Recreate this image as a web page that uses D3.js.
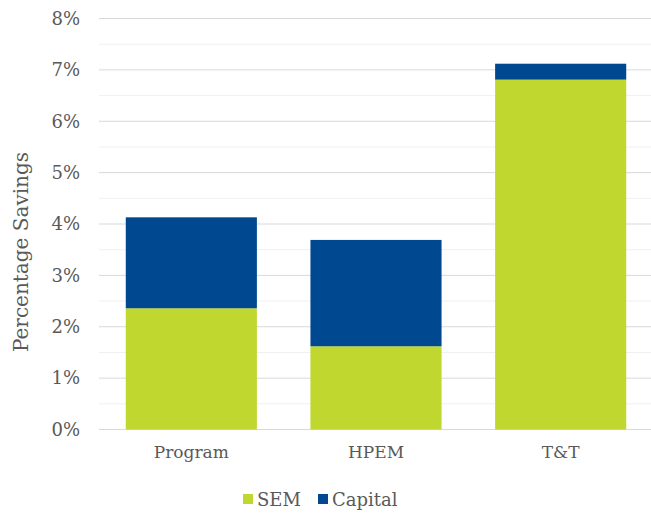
<!DOCTYPE html>
<html><head><meta charset="utf-8">
<script src="https://cdn.jsdelivr.net/npm/d3@7"></script>
<style>body{margin:0;background:#fff}svg{display:block}</style>
</head><body>
<svg id="c" width="651" height="514"></svg>
<script>
const categories = ["Program", "HPEM", "T&T"];
const seriesNames = ["SEM", "Capital"];
const semValues = [2.36, 1.62, 6.81];
const capitalValues = [1.77, 2.07, 0.31];
const yTicks = [0,1,2,3,4,5,6,7,8];
const colors = ["#C0D72F", "#004990"];
const FONT = "'DejaVu Serif', 'Liberation Serif', serif";
const TXT = "#595959";

const svg = d3.select("#c");
const x = d3.scaleBand().domain(categories).range([99, 653]).paddingInner(0.29).paddingOuter(0.145);
const y = d3.scaleLinear().domain([0, 8]).range([429.5, 18.5]);

svg.append("g").selectAll("line").data(d3.range(0.5, 8, 1)).join("line")
  .attr("x1", 99).attr("x2", 651).attr("y1", d => y(d)).attr("y2", d => y(d))
  .attr("stroke", "#f0f0f0").attr("stroke-width", 1);
svg.append("g").selectAll("line").data(yTicks).join("line")
  .attr("x1", 99).attr("x2", 651).attr("y1", d => y(d)).attr("y2", d => y(d))
  .attr("stroke", "#d9d9d9").attr("stroke-width", 1);

const data = categories.map((c, i) => ({cat: c, SEM: semValues[i], Capital: capitalValues[i]}));
const stacked = d3.stack().keys(seriesNames)(data);
svg.append("g").selectAll("g").data(stacked).join("g")
  .attr("fill", (d, i) => colors[i])
  .selectAll("rect").data(d => d).join("rect")
  .attr("x", d => x(d.data.cat)).attr("width", x.bandwidth())
  .attr("y", d => y(d[1])).attr("height", d => y(d[0]) - y(d[1]));

const yAxis = d3.axisLeft(y).tickValues(yTicks).tickFormat(d => d + "%").tickSize(0).tickPadding(0);
const yg = svg.append("g").attr("transform", "translate(80,0)").call(yAxis);
yg.select(".domain").remove();
yg.attr("font-family", FONT).attr("font-size", 18);
yg.selectAll("text").style("fill", TXT);

const xAxis = d3.axisBottom(x).tickSize(0).tickPadding(0);
const xg = svg.append("g").attr("transform", "translate(0,446)").call(xAxis);
xg.select(".domain").remove();
xg.attr("font-family", FONT).attr("font-size", 17);
xg.selectAll("text").style("fill", TXT);

svg.append("text").attr("transform", "translate(28,252) rotate(-90)")
  .attr("text-anchor", "middle").attr("font-family", FONT).attr("font-size", 20)
  .attr("fill", TXT).text("Percentage Savings");

const legX = [243, 318];
const leg = svg.append("g").selectAll("g").data(seriesNames).join("g")
  .attr("transform", (d, i) => `translate(${legX[i]},494)`);
leg.append("rect").attr("width", 10).attr("height", 10).attr("fill", (d, i) => colors[i]);
leg.append("text").attr("x", 14).attr("y", 12).attr("font-family", FONT).attr("font-size", 18)
  .attr("fill", TXT).text(d => d);
</script>
</body></html>
